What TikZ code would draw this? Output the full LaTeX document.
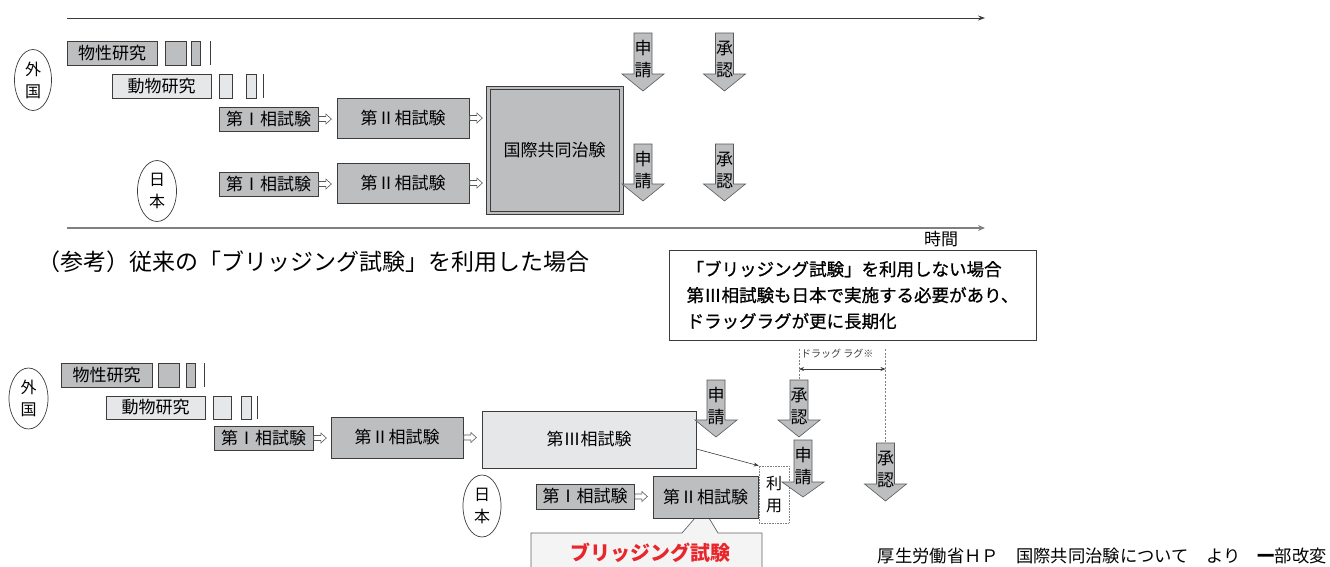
\documentclass[tikz,border=0pt]{standalone}
\usepackage{fontspec}
\setmainfont{Noto Sans CJK JP}
\newfontfamily\notefont{Noto Sans CJK JP}[FakeBold=0.9]
\usetikzlibrary{shapes.geometric,arrows.meta}
\definecolor{dk}{HTML}{BDBEC0}
\definecolor{lt}{HTML}{E6E7E8}
\definecolor{ln}{HTML}{3C3C3C}
\definecolor{bl}{HTML}{F4F4F4}
\definecolor{redt}{HTML}{E8262B}
\newcommand\DArr[6]{%
  \draw[darrow] (#2-9,#3) -- (#2+9,#3) -- (#2+9,#4) -- (#2+21,#4) -- (#2,#5) -- (#2-21,#4) -- (#2-9,#4) -- cycle;
  \coordinate (#1top) at (#2,#3);
  \node[vtext] (#1) at (#2,#3+26) {#6};
}
\newcommand\HArr[2]{%
  \path (#1.east) ++(0.5,0) coordinate (#2);
  \draw[harrow] (#2) -- ++(0,-2.5) -- ++(7,0) -- ++(0,-2.5) -- ++(5.5,5) -- ++(-5.5,5) -- ++(0,-2.5) -- ++(-7,0) -- cycle;
}
\begin{document}
\begin{tikzpicture}[x=1pt,y=-1pt,
  box/.style={draw=ln, line width=0.7pt, inner sep=0pt, font=\fontsize{17}{20}\selectfont},
  dbox/.style={box, fill=dk},
  lbox/.style={box, fill=lt},
  tick/.style={draw=ln, line width=0.7pt},
  oval/.style={ellipse, draw=ln, line width=0.7pt, fill=white, inner sep=0pt, align=center, font=\fontsize{16}{22}\selectfont},
  darrow/.style={fill=dk, draw=ln!85, line width=0.6pt},
  vtext/.style={inner sep=0pt, align=center, font=\fontsize{17}{22}\selectfont},
  harrow/.style={fill=white, draw=ln!85, line width=0.6pt},
  axisA/.style={draw=ln, line width=0.8pt, -{Stealth[length=7pt,width=5pt]}},
  axisB/.style={draw=gray, line width=1.8pt, -{Stealth[length=7pt,width=6pt]}},
  lbl/.style={inner sep=0pt, font=\fontsize{17}{20}\selectfont},
  lag/.style={draw=gray, line width=0.5pt, dash pattern=on 2pt off 1.5pt},
]
\useasboundingbox (0,0) rectangle (1330,566);

% ---------- top section ----------
\coordinate (ta1) at (67,18);
\coordinate (ta2) at (985,18);
\draw[axisA] (ta1) -- (ta2);
\coordinate (tb1) at (67,228);
\coordinate (tb2) at (985,228);
\draw[axisB] (tb1) -- (tb2);
\node[lbl] (time) at (941,239) {時間};

\node[oval, minimum width=37pt, minimum height=61pt] (f1) at (33,80) {外\\国};
\node[oval, minimum width=39pt, minimum height=61pt] (j1) at (157,191) {日\\本};

\node[dbox, minimum width=90pt, minimum height=24pt] (mat1) at (112,53) {物性研究};
\node[dbox, minimum width=21pt, minimum height=24pt] (mat1a) at (175.5,53) {};
\node[dbox, minimum width=9pt, minimum height=24pt] (mat1b) at (195.5,53) {};
\draw[tick] (210,41) -- (210,65);
\node[lbox, minimum width=99pt, minimum height=24pt] (ani1) at (161.5,86) {動物研究};
\node[lbox, minimum width=13pt, minimum height=24pt] (ani1a) at (225.5,86) {};
\node[lbox, minimum width=10pt, minimum height=24pt] (ani1b) at (251,86) {};
\draw[tick] (263,74) -- (263,98);

\node[dbox, minimum width=99pt, minimum height=24pt] (p1a) at (268.5,119) {第Ⅰ相試験};
\node[dbox, minimum width=132pt, minimum height=40pt] (p2a) at (403,118) {第Ⅱ相試験};
\node[dbox, minimum width=99pt, minimum height=24pt] (p1b) at (268.5,184) {第Ⅰ相試験};
\node[dbox, minimum width=132pt, minimum height=40pt] (p2b) at (403,183) {第Ⅱ相試験};
\node[dbox, minimum width=137pt, minimum height=128pt] (glob) at (554.5,150) {国際共同治験};
\draw[ln, line width=0.7pt] ([shift={(4.5,4)}]glob.north west) rectangle ([shift={(-4.5,-3.5)}]glob.south east);
\HArr{p1a}{h1}
\HArr{p2a}{h2}
\HArr{p1b}{h3}
\HArr{p2b}{h4}

\DArr{a1}{643}{33}{74}{91}{申\\請}
\DArr{a2}{724.5}{33}{74}{91}{承\\認}
\DArr{a3}{643}{144}{184}{201}{申\\請}
\DArr{a4}{724.5}{144}{184}{201}{承\\認}

\node[anchor=west, inner sep=0pt, font=\fontsize{23}{27}\selectfont] (cap) at (37,262) {（参考）従来の「ブリッジング試験」を利用した場合};

\node[draw=ln, line width=0.8pt, minimum width=367pt, minimum height=90pt, align=left, inner sep=0pt,
  font=\notefont\fontsize{17.5}{26}\selectfont] (note) at (852.5,295)
  {「ブリッジング試験」を利用しない場合\\第Ⅲ相試験も日本で実施する必要があり、\\ドラッグラグが更に長期化};

% ---------- bottom section ----------
\node[oval, minimum width=39pt, minimum height=61pt] (f2) at (28.5,398.5) {外\\国};

\node[dbox, minimum width=91pt, minimum height=24pt] (mat2) at (106.5,375) {物性研究};
\node[dbox, minimum width=21pt, minimum height=24pt] (mat2a) at (168.5,375) {};
\node[dbox, minimum width=9pt, minimum height=24pt] (mat2b) at (190.5,375) {};
\draw[tick] (204,363) -- (204,387);
\node[lbox, minimum width=99pt, minimum height=23pt] (ani2) at (155.5,407.5) {動物研究};
\node[lbox, minimum width=18pt, minimum height=23pt] (ani2a) at (222,407.5) {};
\node[lbox, minimum width=10pt, minimum height=23pt] (ani2b) at (246,407.5) {};
\draw[tick] (257,396) -- (257,419);

\node[dbox, minimum width=99pt, minimum height=24pt] (p1c) at (263.5,438) {第Ⅰ相試験};
\node[dbox, minimum width=132pt, minimum height=41pt] (p2c) at (397,437.5) {第Ⅱ相試験};
\node[lbox, minimum width=214pt, minimum height=57pt] (p3) at (589,439.5) {第Ⅲ相試験};
\HArr{p1c}{h5}
\HArr{p2c}{h6}

\node[oval, minimum width=38pt, minimum height=62pt] (j2) at (482,506) {日\\本};

% callout
\coordinate (cl) at (531,567);
\coordinate (cr) at (762,567);
\fill[bl] (cl) -- (531,533) -- (682,533) -- (695,518) -- (709,518) -- (718,533) -- (762,533) -- (cr) -- cycle;
\draw[ln!80, line width=0.7pt] (cl) -- (531,533) -- (682,533) -- (695,518) (709,518) -- (718,533) -- (762,533) -- (cr);
\node[inner sep=0pt, text=redt, font=\bfseries\fontsize{20}{24}\selectfont] (bridge) at (650,553) {ブリッジング試験};

\node[dbox, minimum width=98pt, minimum height=25pt] (p1d) at (585,496.5) {第Ⅰ相試験};
\node[dbox, minimum width=105pt, minimum height=42pt] (p2d) at (705.5,497) {第Ⅱ相試験};
\HArr{p1d}{h7}
\node[draw=gray, densely dotted, fill=white, line width=0.6pt, minimum width=30pt, minimum height=57pt,
  inner sep=0pt, align=center, font=\fontsize{16}{22}\selectfont] (use) at (774,494.5) {利\\用};
\draw[ln, line width=0.6pt, -{Stealth[length=5pt,width=4pt]}] ([yshift=-9.5pt]p3.east) -- (use.north west);

\DArr{b1}{716}{380}{420}{437}{申\\請}
\DArr{b2}{799}{380}{420}{437}{承\\認}
\DArr{b3}{803}{440}{482}{497}{申\\請}
\DArr{b4}{885.5}{443}{484}{501}{承\\認}

% drag lag
\coordinate (lg1) at (799,349);
\coordinate (lg2) at (885.5,349);
\draw[lag] (lg1) -- (b2top);
\draw[lag] (lg2) -- (b4top);
\coordinate (lm1) at (799,369);
\coordinate (lm2) at (885.5,369);
\draw[ln, line width=0.7pt, {Stealth[length=5pt,width=4pt]}-{Stealth[length=5pt,width=4pt]}] (lm1) -- (lm2);
\node[anchor=west, inner sep=0pt, text=ln, font=\fontsize{10}{11}\selectfont] (lagt) at (801,354) {ドラッグ ラグ※};

\node[anchor=east, inner sep=0pt, font=\fontsize{17.3}{20}\selectfont] (src) at (1327,556) {厚生労働省ＨＰ　国際共同治験について　より　{\bfseries 一}部改変};
\end{tikzpicture}
\end{document}
